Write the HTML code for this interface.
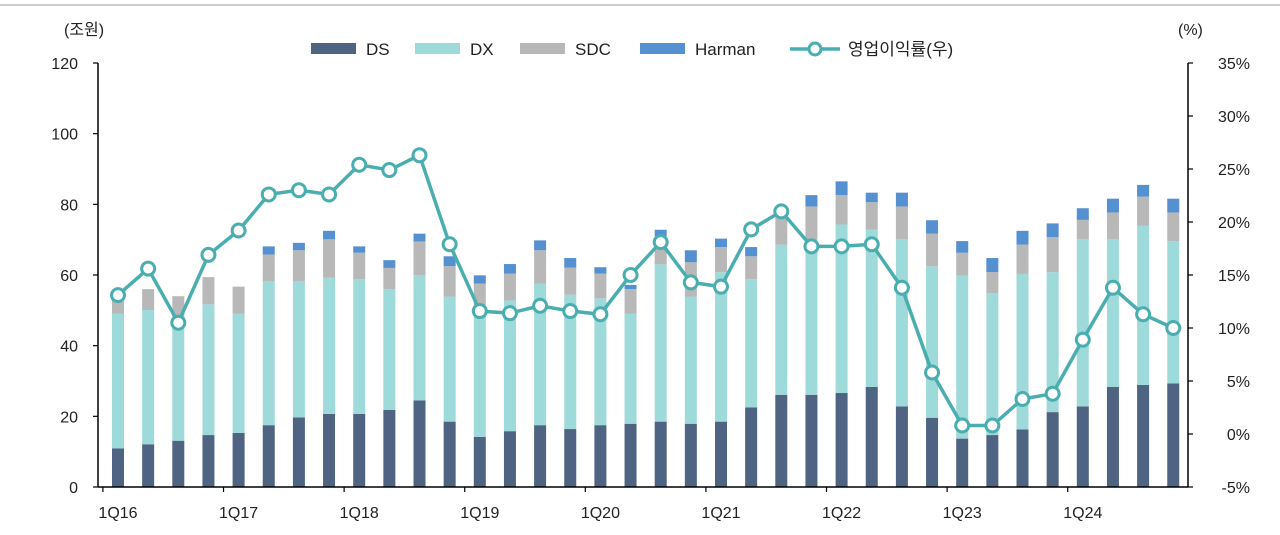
<!DOCTYPE html>
<html><head><meta charset="utf-8"><style>
body{margin:0;background:#fff;}
svg text{font-family:"Liberation Sans","Noto Sans CJK KR",sans-serif;fill:#222;}
</style></head><body>
<svg id="chart" width="1280" height="530" xmlns="http://www.w3.org/2000/svg">
<line x1="0" y1="5" x2="1280" y2="5" stroke="#bbb" stroke-width="1.5"/>
<g id="bars"></g>
<g id="line"></g>
<g id="axes"></g>
<g>
<rect x="311" y="43" width="45" height="11" fill="#4f6482"/>
<text x="366" y="55" font-size="17">DS</text>
<rect x="415" y="43" width="45" height="11" fill="#9fdadb"/>
<text x="470" y="55" font-size="17">DX</text>
<rect x="520" y="43" width="45" height="11" fill="#b8b8b8"/>
<text x="575" y="55" font-size="17">SDC</text>
<rect x="640" y="43" width="45" height="11" fill="#5590d0"/>
<text x="695" y="55" font-size="17">Harman</text>
<line x1="790" y1="49" x2="840" y2="49" stroke="#4aaeb0" stroke-width="3.5"/>
<circle cx="815" cy="49" r="6" fill="#fff" stroke="#4aaeb0" stroke-width="3"/>
<text x="848" y="55" font-size="17">영업이익률(우)</text>
</g>
<text x="64" y="35" font-size="16">(조원)</text>
<text x="1178" y="35" font-size="16">(%)</text>
</svg>
<script>
const categories=["1Q16","2Q16","3Q16","4Q16","1Q17","2Q17","3Q17","4Q17","1Q18","2Q18","3Q18","4Q18","1Q19","2Q19","3Q19","4Q19","1Q20","2Q20","3Q20","4Q20","1Q21","2Q21","3Q21","4Q21","1Q22","2Q22","3Q22","4Q22","1Q23","2Q23","3Q23","4Q23","1Q24","2Q24","3Q24","4Q24"];
const dsValues=[10.9,12.1,13.1,14.7,15.3,17.5,19.7,20.7,20.7,21.8,24.5,18.5,14.2,15.8,17.5,16.4,17.5,17.9,18.5,17.9,18.5,22.5,26.1,26.1,26.6,28.3,22.8,19.6,13.7,14.7,16.3,21.2,22.8,28.3,28.9,29.3];
const dxValues=[38.2,38.0,34.4,37.0,33.8,40.7,38.5,38.6,38.1,34.2,35.4,35.4,36.3,37.0,40.1,38.0,35.9,31.1,44.5,36.0,42.3,36.3,42.5,43.9,47.7,44.5,47.3,42.9,46.1,40.2,44.0,39.6,47.3,41.8,45.0,40.3];
const sdcValues=[3.9,5.9,6.5,7.7,7.6,7.6,8.8,10.8,7.5,6.0,9.6,8.6,7.1,7.6,9.4,7.7,7.0,7.0,8.0,9.7,7.1,6.5,9.4,9.4,8.3,7.8,9.3,9.2,6.5,5.9,8.3,9.9,5.5,7.6,8.3,8.1];
const harmanValues=[0,0,0,0,0,2.3,2.1,2.4,1.8,2.2,2.2,2.8,2.3,2.7,2.8,2.7,1.8,1.2,1.8,3.4,2.4,2.6,1.0,3.2,3.9,2.7,3.9,3.8,3.3,4.0,3.9,3.9,3.3,3.9,3.3,3.9];
const marginValues=[13.1,15.6,10.5,16.9,19.2,22.6,23.0,22.6,25.4,24.9,26.3,17.9,11.6,11.4,12.1,11.6,11.3,15.0,18.1,14.3,13.9,19.3,21.0,17.7,17.7,17.9,13.8,5.8,0.8,0.8,3.3,3.8,8.9,13.8,11.3,10.0];
const leftTicks=[0,20,40,60,80,100,120];
const rightTicks=[-5,0,5,10,15,20,25,30,35];
const xLabels=["1Q16","1Q17","1Q18","1Q19","1Q20","1Q21","1Q22","1Q23","1Q24"];

const NS="http://www.w3.org/2000/svg";
const X0=118,STEP=30.15,BW=12,Y0=487,YT=63,AXL=98,AXR=1188;
function x(i){return X0+i*STEP;}
function yl(v){return Y0-(v/120)*(Y0-YT);}
function yr(v){return Y0-((v+5)/40)*(Y0-YT);}
function mk(tag,attrs,parent){const e=document.createElementNS(NS,tag);for(const k in attrs)e.setAttribute(k,attrs[k]);parent.appendChild(e);return e;}
const bars=document.getElementById('bars'),line=document.getElementById('line'),axes=document.getElementById('axes');
const series=[[dsValues,'#4f6482','ds'],[dxValues,'#9fdadb','dx'],[sdcValues,'#b8b8b8','sdc'],[harmanValues,'#5590d0','harman']];
categories.forEach((c,i)=>{
  let base=0;
  series.forEach(([arr,col,nm])=>{
    const v=arr[i];
    if(v>0){
      const r=mk('rect',{x:x(i)-BW/2,y:yl(base+v),width:BW,height:yl(base)-yl(base+v),fill:col},bars);
      
      
    }
    base+=v;
  });
});
const pts=marginValues.map((v,i)=>x(i)+','+yr(v)).join(' ');
const pl=mk('polyline',{points:pts,fill:'none',stroke:'#4aaeb0','stroke-width':3.5},line);


marginValues.forEach((v,i)=>{
  const c=mk('circle',{cx:x(i),cy:yr(v),r:6.5,fill:'#fff',stroke:'#4aaeb0','stroke-width':3},line);
  
  
});
// axes
let a=mk('line',{x1:AXL,y1:YT,x2:AXL,y2:Y0,stroke:'#000','stroke-width':1.5},axes);


a=mk('line',{x1:AXR,y1:YT,x2:AXR,y2:Y0,stroke:'#000','stroke-width':1.5},axes);


a=mk('line',{x1:AXL,y1:Y0,x2:AXR,y2:Y0,stroke:'#000','stroke-width':1.5},axes);


leftTicks.forEach(t=>{
  mk('line',{x1:AXL-5,y1:yl(t),x2:AXL,y2:yl(t),stroke:'#000','stroke-width':1.2},axes);
  const tx=mk('text',{x:78,y:yl(t)+6,'font-size':16,'text-anchor':'end'},axes);
  tx.textContent=t;
  
  
});
rightTicks.forEach(t=>{
  mk('line',{x1:AXR,y1:yr(t),x2:AXR+5,y2:yr(t),stroke:'#000','stroke-width':1.2},axes);
  const tx=mk('text',{x:1250,y:yr(t)+6,'font-size':16,'text-anchor':'end'},axes);
  tx.textContent=t+'%';
  
  
});
xLabels.forEach(l=>{
  const i=categories.indexOf(l);
  mk('line',{x1:x(i)-STEP/2,y1:Y0,x2:x(i)-STEP/2,y2:Y0+5,stroke:'#000','stroke-width':1.2},axes);
  const tx=mk('text',{x:x(i),y:518,'font-size':16,'text-anchor':'middle'},axes);
  tx.textContent=l;
  
  
});
</script>
</body></html>
